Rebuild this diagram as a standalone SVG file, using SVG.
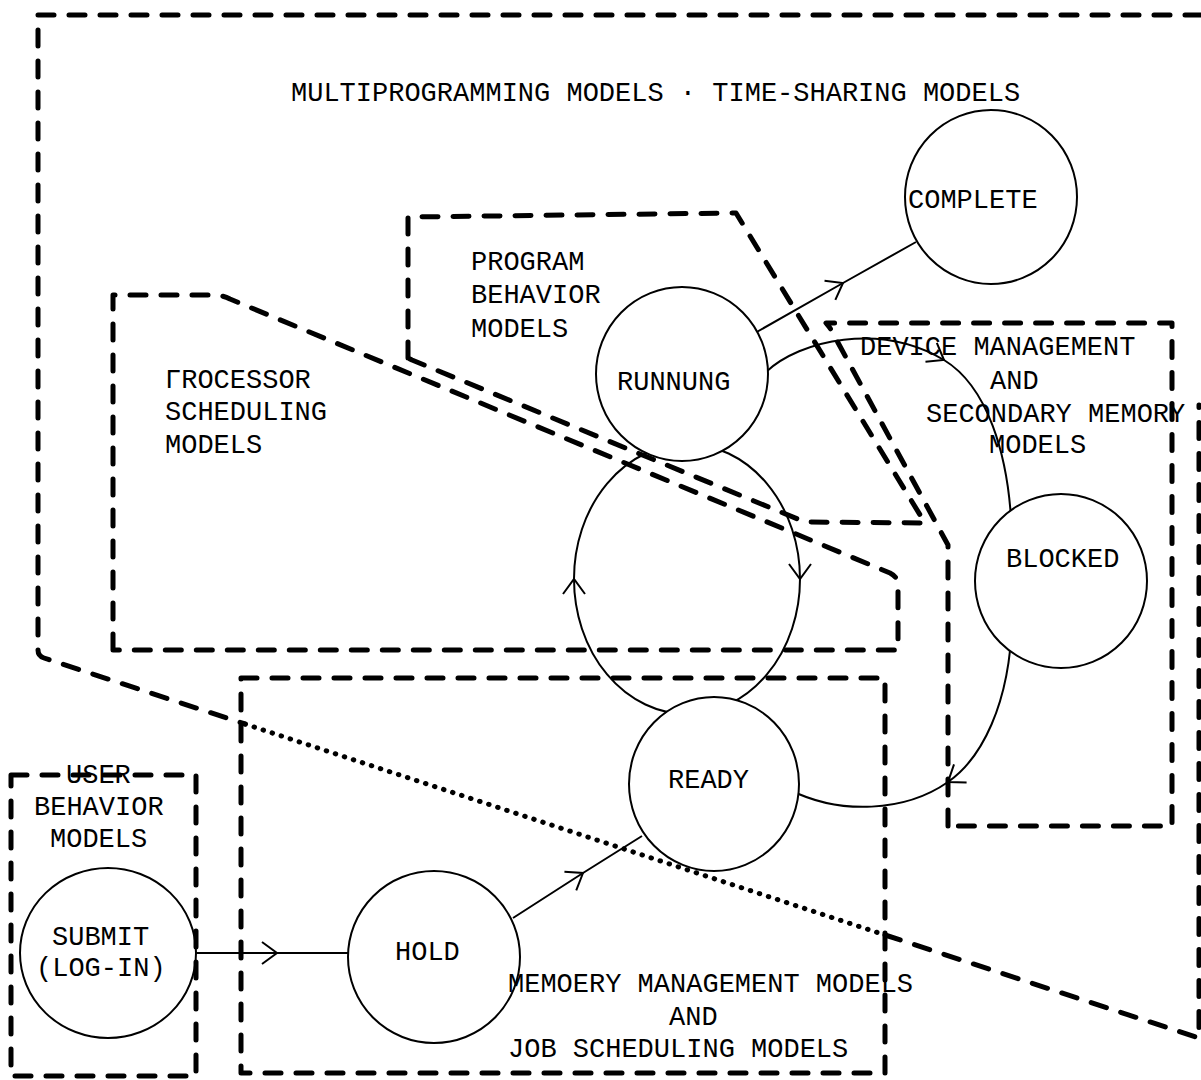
<svg xmlns="http://www.w3.org/2000/svg" width="1201" height="1080" viewBox="0 0 1201 1080">
<style>
  .bd{fill:none;stroke:#000;stroke-width:5;stroke-dasharray:16 15;stroke-linecap:round;stroke-linejoin:round}
  .dot{fill:none;stroke:#000;stroke-width:5;stroke-dasharray:0.5 9;stroke-linecap:round}
  .nd{fill:#fff;stroke:#000;stroke-width:2}
  .cn{fill:none;stroke:#000;stroke-width:2;marker-mid:url(#arr)}
  text{font-family:"Liberation Mono","DejaVu Sans Mono",monospace;font-size:27px;fill:#000}
</style>
<defs>
  <marker id="arr" markerUnits="userSpaceOnUse" viewBox="-17 -13 19 26" refX="0" refY="0" markerWidth="19" markerHeight="26" orient="auto">
    <path d="M-15,-11 L0,0 L-15,11" fill="none" stroke="#000" stroke-width="2"/>
  </marker>
</defs>
<rect width="1201" height="1080" fill="#fff"/>

<g id="connectors">
  <path class="cn" d="M196,953 L277,953 L349,953"/>
  <path class="cn" d="M513,918 L583,873 L642,836"/>
  <path class="cn" d="M755,333 L843,283 L916,242"/>
  <path class="cn" d="M687,714 A113,135 0 0 1 574,579 A113,135 0 0 1 687,444"/>
  <path class="cn" d="M687,444 A113,135 0 0 1 800,579 A113,135 0 0 1 687,714"/>
  <path class="cn" d="M766,372 C800,340 880,322 944,360 C985,385 1010,450 1012,540"/>
  <path class="cn" d="M1012,620 C1010,705 981,759 948,782 C905,812 840,815 790,790"/>
</g>

<g id="node-complete">
  <ellipse class="nd" cx="991" cy="197" rx="86" ry="87"/>
  <text x="908" y="208">COMPLETE</text>
</g>
<g id="node-running">
  <ellipse class="nd" cx="682" cy="374" rx="86" ry="87"/>
  <text x="617" y="390">RUNNUNG</text>
</g>
<g id="node-blocked">
  <ellipse class="nd" cx="1061" cy="581" rx="86" ry="87"/>
  <text x="1006" y="567">BLOCKED</text>
</g>
<g id="node-ready">
  <ellipse class="nd" cx="714" cy="784" rx="85" ry="87"/>
  <text x="668" y="788">READY</text>
</g>
<g id="node-hold">
  <ellipse class="nd" cx="434" cy="957" rx="86" ry="86"/>
  <text x="395" y="960">HOLD</text>
</g>
<g id="node-submit">
  <ellipse class="nd" cx="108" cy="953" rx="88" ry="85"/>
  <text x="52" y="945">SUBMIT</text>
  <text x="36" y="976">(LOG-IN)</text>
</g>

<g id="region-multiprogramming">
  <path class="bd" d="M1201,15 L38,15 L38,650 Q38,656 44,658 L245,724"/>
  <path class="dot" d="M245,724 L885,935"/>
  <path class="bd" d="M885,935 L1199,1038 L1199,405"/>
  <text x="291" y="101">MULTIPROGRAMMING MODELS · TIME-SHARING MODELS</text>
</g>
<g id="region-processor">
  <path class="bd" d="M113,650 L113,295 L214,295 Q222,295 230,299 L890,573 Q898,577 898,585 L898,650 Z"/>
  <text x="165" y="388">ΓROCESSOR</text>
  <text x="165" y="420">SCHEDULING</text>
  <text x="165" y="453">MODELS</text>
</g>
<g id="region-program">
  <path class="bd" d="M408,358 L408,217 L736,213 L925,523 L805,522 L412,360 Z"/>
  <text x="471" y="270">PROGRAM</text>
  <text x="471" y="303">BEHAVIOR</text>
  <text x="471" y="337">MODELS</text>
</g>
<g id="region-device">
  <path class="bd" d="M948,826 L948,545 L830,328 L826,323 L1172,323 L1172,826 Z"/>
  <text x="860" y="355">DEVICE MANAGEMENT</text>
  <text x="990" y="389">AND</text>
  <text x="926" y="422">SECONDARY MEMORY</text>
  <text x="989" y="453">MODELS</text>
</g>
<g id="region-memory">
  <rect class="bd" x="241" y="678" width="644" height="395"/>
  <text x="508" y="992">MEMOERY MANAGEMENT MODELS</text>
  <text x="669" y="1025">AND</text>
  <text x="508" y="1057">JOB SCHEDULING MODELS</text>
</g>
<g id="region-user">
  <rect class="bd" x="11" y="775" width="185" height="301"/>
  <text x="66" y="783">USER</text>
  <text x="34" y="815">BEHAVIOR</text>
  <text x="50" y="847">MODELS</text>
</g>
</svg>
